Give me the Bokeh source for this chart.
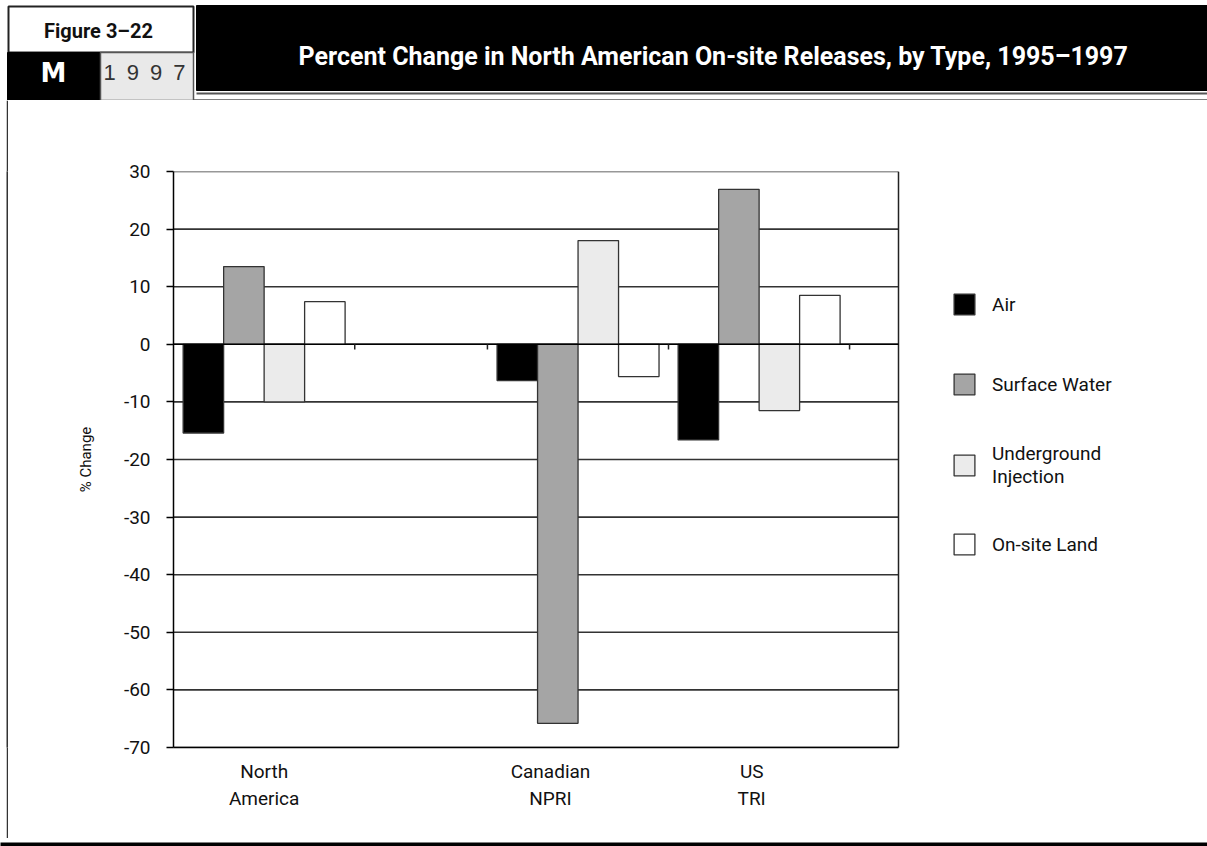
from bokeh.plotting import figure
from bokeh.models import Range1d, FixedTicker, ColumnDataSource, Legend, LegendItem
from bokeh.layouts import column, row
from bokeh.embed import file_html
from bokeh.resources import INLINE
from bokeh.core.properties import value

# ---------------- data ----------------
categories = ["North America", "Canadian NPRI", "US TRI"]
category_labels = ["North\nAmerica", "Canadian\nNPRI", "US\nTRI"]
series_names = ["Air", "Surface Water", "Underground Injection", "On-site Land"]
legend_labels = ["Air", "Surface Water", "Underground\nInjection", "On-site Land"]
air = [-15.4, -6.3, -16.6]
surface_water = [13.5, -65.8, 26.9]
underground_injection = [-10.0, 18.0, -11.5]
onsite_land = [7.4, -5.6, 8.5]
y_ticks = [-70, -60, -50, -40, -30, -20, -10, 0, 10, 20, 30]
title_text = "Percent Change in North American On-site Releases, by Type, 1995\u20131997"
figure_label = "Figure 3\u201322"
badge_letter = "M"
badge_year = "1\u20029\u20029\u20027"
y_axis_title = "% Change"

# ---------------- layout / style ----------------
FONT = "Roboto"
W = 1207
HEADER_H = 100
MAIN_H = 738
PAD_L = 6
BORDER_W = 2
SLOT_START = [0.0, 1.732, 2.731]      # left edge of each category slot
LABEL_POS = [0.5, 2.08, 3.19]         # where category labels sit
BOUNDARY_TICKS = [1.0, 1.732, 2.731, 3.73]
CHART_END = 4.0
PX_PER_UNIT = 181.25
BAR_W = 0.2234
fills = ["#000000", "#a5a5a5", "#ebebeb", "#ffffff"]
series_values = [air, surface_water, underground_injection, onsite_land]

# ---------------- header ----------------
hdr = figure(width=W, height=HEADER_H, x_range=Range1d(0, W), y_range=Range1d(HEADER_H, 0),
             x_axis_type=None, y_axis_type=None, min_border=0, toolbar_location=None,
             output_backend="svg", outline_line_color=None)
hdr.xgrid.visible = False
hdr.ygrid.visible = False
hdr.quad(left=[8], right=[193], top=[6], bottom=[52], fill_color="white", line_color="#222", line_width=2)
hdr.quad(left=[7], right=[100], top=[52], bottom=[100], fill_color="black", line_color="black")
hdr.quad(left=[100], right=[193], top=[52], bottom=[100], fill_color="#e9e9e9", line_color="#555", line_width=1.5)
hdr.quad(left=[196], right=[W], top=[5], bottom=[90], fill_color="black", line_color="black")
hdr.segment(x0=[196], y0=[93], x1=[W], y1=[93], line_color="#555", line_width=2)
hdr.segment(x0=[193], y0=[99.5], x1=[W], y1=[99.5], line_color="#555", line_width=1.5)
hdr.text(x=[98], y=[30], text=[figure_label], text_font=value(FONT), text_font_style="bold",
         text_font_size="20px", text_color="#111", text_align="center", text_baseline="middle")
hdr.text(x=[53], y=[72], text=[badge_letter], text_font=value("DejaVu Sans"), text_font_style="bold",
         text_font_size="26px", text_color="white", text_align="center", text_baseline="middle")
hdr.text(x=[144], y=[72], text=[badge_year], text_font=value("Liberation Sans"),
         text_font_size="22px", text_color="#333", text_align="center", text_baseline="middle")
hdr.text(x=[713], y=[56], text=[title_text], text_font=value(FONT), text_font_style="bold",
         text_font_size="25px", text_color="white", text_align="center", text_baseline="middle")

# ---------------- main chart ----------------
main_w = W - PAD_L - BORDER_W
frame_left = 173 - PAD_L - BORDER_W
x_end = (main_w - frame_left) / PX_PER_UNIT
p = figure(width=main_w, height=MAIN_H, x_range=Range1d(0, x_end), y_range=Range1d(-70, 30),
           toolbar_location=None, output_backend="svg",
           min_border_left=frame_left, min_border_right=0, min_border_top=71, min_border_bottom=91)
p.outline_line_color = None
p.xgrid.visible = False
p.ygrid.visible = False

# horizontal grid lines and chart border, limited to the chart area
n = len(y_ticks)
p.segment(x0=[0] * n, y0=y_ticks, x1=[CHART_END] * n, y1=y_ticks,
          line_color="#333", line_width=1.6, level="underlay")
p.segment(x0=[CHART_END], y0=[y_ticks[0]], x1=[CHART_END], y1=[y_ticks[-1]],
          line_color="#222", line_width=1.5, level="underlay")

renderers = []
for i, (name, vals) in enumerate(zip(series_names, series_values)):
    xs = [s + 0.5 + (i - 1.5) * BAR_W for s in SLOT_START]
    src = ColumnDataSource(dict(x=xs, top=vals, cat=categories))
    r = p.vbar(x="x", top="top", bottom=0, width=BAR_W, source=src,
               fill_color=fills[i], line_color="#333", line_width=1.3)
    renderers.append(r)

# zero line with small ticks below it
p.segment(x0=[0], y0=[0], x1=[CHART_END], y1=[0], line_color="black", line_width=1.5)
p.segment(x0=BOUNDARY_TICKS, y0=0, x1=BOUNDARY_TICKS, y1=-0.9, line_color="#222", line_width=1.5)

# y axis
yax = p.yaxis[0]
yax.ticker = FixedTicker(ticks=y_ticks)
yax.major_label_overrides = {t: str(t) for t in y_ticks}
yax.major_tick_out = 7
yax.major_tick_in = 0
yax.minor_tick_out = 0
yax.minor_tick_in = 0
yax.major_tick_line_color = "black"
yax.major_tick_line_width = 1.5
yax.axis_line_color = "black"
yax.axis_line_width = 1.5
yax.major_label_standoff = 16
yax.major_label_text_font = FONT
yax.major_label_text_font_size = "19px"
yax.major_label_text_color = "#111"
yax.axis_label = y_axis_title
yax.axis_label_text_font = FONT
yax.axis_label_text_font_size = "15px"
yax.axis_label_text_font_style = "normal"
yax.axis_label_text_color = "#111"
yax.axis_label_standoff = 26

# x axis
xax = p.xaxis[0]
xax.ticker = FixedTicker(ticks=LABEL_POS)
xax.major_label_overrides = {pos: lab for pos, lab in zip(LABEL_POS, category_labels)}
xax.bounds = (0, CHART_END)
xax.major_tick_out = 0
xax.major_tick_in = 0
xax.minor_tick_out = 0
xax.minor_tick_in = 0
xax.axis_line_color = "black"
xax.axis_line_width = 1.5
xax.major_label_standoff = 12
xax.major_label_text_font = FONT
xax.major_label_text_font_size = "19px"
xax.major_label_text_color = "#111"
xax.major_label_text_line_height = 1.2

# legends, one per item for exact placement
legend_y = [430, 350, 259, 190]
legend_lh = [1.3, 1.3, 1.42, 1.3]
for r, lab, ly, lh in zip(renderers, legend_labels, legend_y, legend_lh):
    lg = Legend(items=[LegendItem(label=lab, renderers=[r])], location=(778, ly),
                glyph_width=26, glyph_height=26, label_standoff=15, padding=0, margin=0,
                border_line_color=None, background_fill_alpha=0,
                label_text_font=FONT, label_text_font_size="19px", label_text_color="#111",
                label_text_line_height=lh)
    p.add_layout(lg)

# left margin, left border and footer
pad = figure(width=PAD_L, height=MAIN_H, x_axis_type=None, y_axis_type=None, min_border=0,
             toolbar_location=None, output_backend="svg", outline_line_color=None)
left_border = figure(width=BORDER_W, height=MAIN_H, x_axis_type=None, y_axis_type=None, min_border=0,
                     toolbar_location=None, output_backend="svg", outline_line_color=None,
                     background_fill_color="#333", border_fill_color="#333")
footer = figure(width=W, height=8, x_axis_type=None, y_axis_type=None, min_border=0,
                toolbar_location=None, output_backend="svg", outline_line_color=None,
                background_fill_color="black", border_fill_color="black")

layout = column(hdr, row(pad, left_border, p), footer)
open("out.html", "w").write(file_html(layout, INLINE))
